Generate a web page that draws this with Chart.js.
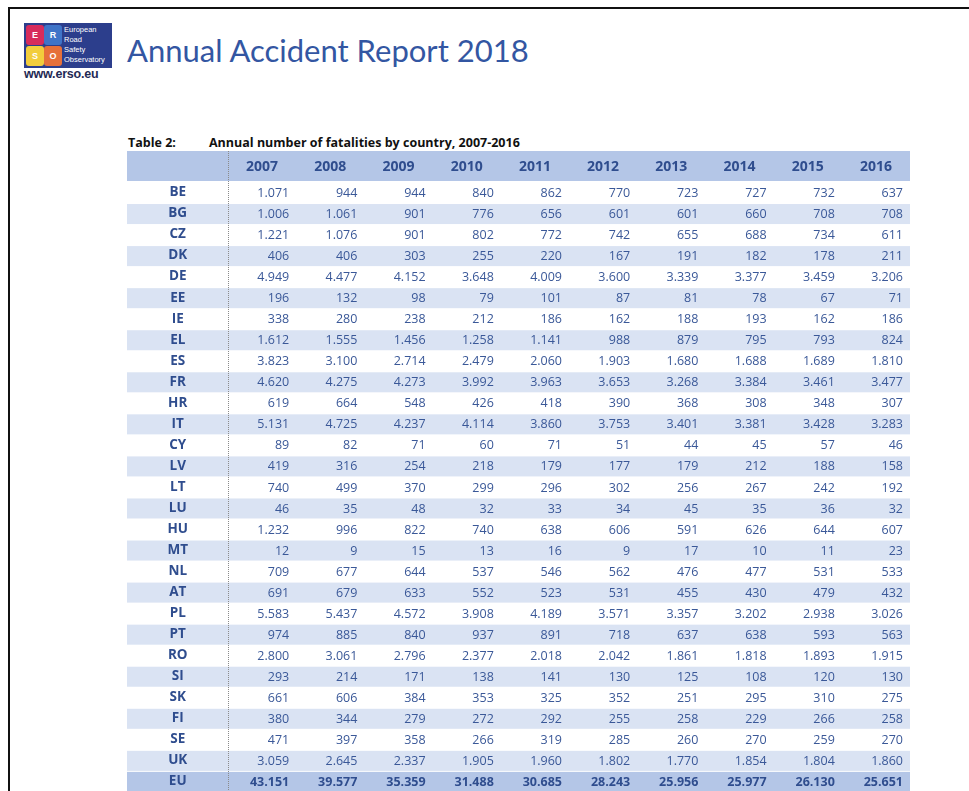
<!DOCTYPE html>
<html>
<head>
<meta charset="utf-8">
<script src="https://cdn.jsdelivr.net/npm/chart.js@4.4.1/dist/chart.umd.min.js"></script>
<style>
html, body { margin: 0; padding: 0; background: #fff; overflow: hidden; width: 969px; height: 791px; }
#frame { position: absolute; left: 8px; top: 7px; width: 980px; height: 800px; border-top: 2px solid #111; border-left: 2px solid #111; }
#logo { position: absolute; left: 24px; top: 23px; width: 88px; height: 45px; background: #2c3e8c; overflow: hidden; }
.piece { position: absolute; width: 18px; height: 20px; color: #fff; font: bold 9px "Liberation Sans", Arial, sans-serif; text-align: center; line-height: 20px; border-radius: 3px; }
#logoText { position: absolute; left: 40px; top: 2px; color: #fff; font: 7.5px/10px "Liberation Sans Narrow", "Liberation Sans", Arial, sans-serif; }
#www { position: absolute; left: 24px; top: 67px; font: bold 12.5px "Liberation Sans", Arial, sans-serif; color: #1f2a55; letter-spacing: -0.2px; }
#title { position: absolute; left: 127px; top: 31px; font: 31px "Lato", sans-serif; color: #3356a2; white-space: nowrap; }
#caption { position: absolute; left: 128px; top: 134px; font: bold 12.5px "Open Sans", sans-serif; color: #111; white-space: nowrap; }
#caption span { position: absolute; left: 81px; top: 0; }
canvas { position: absolute; left: 0; top: 0; }
</style>
</head>
<body>
<div id="frame"></div>
<div id="logo">
  <div class="piece" style="left:2px;top:2px;background:#d72b5c">E</div>
  <div class="piece" style="left:20px;top:2px;background:#3f74c8">R</div>
  <div class="piece" style="left:2px;top:23px;background:#f2cd3c">S</div>
  <div class="piece" style="left:20px;top:23px;background:#e6703a">O</div>
  <div id="logoText">European<br>Road<br>Safety<br>Observatory</div>
</div>
<div id="www">www.erso.eu</div>
<div id="title">Annual Accident Report 2018</div>
<div id="caption">Table 2:<span>Annual number of fatalities by country, 2007-2016</span></div>
<canvas id="table" width="969" height="840"></canvas>
<script>
const years = ['2007', '2008', '2009', '2010', '2011', '2012', '2013', '2014', '2015', '2016'];
const countries = ['BE', 'BG', 'CZ', 'DK', 'DE', 'EE', 'IE', 'EL', 'ES', 'FR', 'HR', 'IT', 'CY', 'LV', 'LT',
    'LU', 'HU', 'MT', 'NL', 'AT', 'PL', 'PT', 'RO', 'SI', 'SK', 'FI', 'SE', 'UK', 'EU'];

// fatalities per year, one value per country (same order as countries)
const f2007 = [1071, 1006, 1221, 406, 4949, 196, 338, 1612, 3823, 4620, 619, 5131, 89, 419, 740, 46, 1232, 12, 709, 691, 5583, 974, 2800, 293, 661, 380, 471, 3059, 43151];
const f2008 = [944, 1061, 1076, 406, 4477, 132, 280, 1555, 3100, 4275, 664, 4725, 82, 316, 499, 35, 996, 9, 677, 679, 5437, 885, 3061, 214, 606, 344, 397, 2645, 39577];
const f2009 = [944, 901, 901, 303, 4152, 98, 238, 1456, 2714, 4273, 548, 4237, 71, 254, 370, 48, 822, 15, 644, 633, 4572, 840, 2796, 171, 384, 279, 358, 2337, 35359];
const f2010 = [840, 776, 802, 255, 3648, 79, 212, 1258, 2479, 3992, 426, 4114, 60, 218, 299, 32, 740, 13, 537, 552, 3908, 937, 2377, 138, 353, 272, 266, 1905, 31488];
const f2011 = [862, 656, 772, 220, 4009, 101, 186, 1141, 2060, 3963, 418, 3860, 71, 179, 296, 33, 638, 16, 546, 523, 4189, 891, 2018, 141, 325, 292, 319, 1960, 30685];
const f2012 = [770, 601, 742, 167, 3600, 87, 162, 988, 1903, 3653, 390, 3753, 51, 177, 302, 34, 606, 9, 562, 531, 3571, 718, 2042, 130, 352, 255, 285, 1802, 28243];
const f2013 = [723, 601, 655, 191, 3339, 81, 188, 879, 1680, 3268, 368, 3401, 44, 179, 256, 45, 591, 17, 476, 455, 3357, 637, 1861, 125, 251, 258, 260, 1770, 25956];
const f2014 = [727, 660, 688, 182, 3377, 78, 193, 795, 1688, 3384, 308, 3381, 45, 212, 267, 35, 626, 10, 477, 430, 3202, 638, 1818, 108, 295, 229, 270, 1854, 25977];
const f2015 = [732, 708, 734, 178, 3459, 67, 162, 793, 1689, 3461, 348, 3428, 57, 188, 242, 36, 644, 11, 531, 479, 2938, 593, 1893, 120, 310, 266, 259, 1804, 26130];
const f2016 = [637, 708, 611, 211, 3206, 71, 186, 824, 1810, 3477, 307, 3283, 46, 158, 192, 32, 607, 23, 533, 432, 3026, 563, 1915, 130, 275, 258, 270, 1860, 25651];

const columns = [f2007, f2008, f2009, f2010, f2011, f2012, f2013, f2014, f2015, f2016];

const headerBg = '#b4c6e7';
const stripeBg = '#dae3f3';
const textBlue = '#2f4d8e';
const numBlue = '#3a5898';
const tableLeft = 127;
const rowHeight = 21.1;

function fmt(n) {
    return String(n).replace(/\B(?=(\d{3})+(?!\d))/g, '.');
}

const tablePlugin = {
    id: 'tableCells',
    beforeDraw(chart) {
        const { ctx, chartArea } = chart;
        const x = chart.scales.x, y = chart.scales.y;
        const rowH = y.getPixelForValue(1) - y.getPixelForValue(0);
        const w = chartArea.right - tableLeft;
        ctx.save();
        // header band
        ctx.fillStyle = headerBg;
        ctx.fillRect(tableLeft, x.top, w, x.bottom - x.top - 1);
        // striped rows, EU total row in header colour
        countries.forEach((c, i) => {
            const cy = y.getPixelForValue(i);
            if (i === countries.length - 1) ctx.fillStyle = headerBg;
            else if (i % 2 === 1) ctx.fillStyle = stripeBg;
            else return;
            ctx.fillRect(tableLeft, cy - rowH / 2 + 1, w, rowH - 1);
        });
        ctx.restore();
    },
    afterDraw(chart) {
        const { ctx, chartArea } = chart;
        const x = chart.scales.x, y = chart.scales.y;
        const colW = x.getPixelForValue(1) - x.getPixelForValue(0);
        ctx.save();
        ctx.textAlign = 'right';
        ctx.textBaseline = 'middle';
        columns.forEach((vals, j) => {
            const right = x.getPixelForValue(j) + colW / 2 - 7;
            vals.forEach((v, i) => {
                const total = i === countries.length - 1;
                ctx.font = (total ? 'bold ' : '') + '12.5px "Open Sans", sans-serif';
                ctx.fillStyle = total ? textBlue : numBlue;
                ctx.fillText(fmt(v), right, y.getPixelForValue(i) + 1);
            });
        });
        // dotted divider after the country column
        ctx.strokeStyle = '#8a8a8a';
        ctx.lineWidth = 1;
        ctx.setLineDash([1, 1]);
        ctx.beginPath();
        ctx.moveTo(chartArea.left + 0.5, x.top);
        ctx.lineTo(chartArea.left + 0.5, chart.height);
        ctx.stroke();
        ctx.restore();
    }
};

const ctx = document.getElementById('table').getContext('2d');
const chart = new Chart(ctx, {
    type: 'line',
    data: { labels: years, datasets: [] },
    options: {
        responsive: false,
        maintainAspectRatio: false,
        animation: false,
        devicePixelRatio: 1,
        layout: { padding: { left: 128, right: 59, top: 151, bottom: 46 } },
        plugins: { legend: { display: false }, tooltip: { enabled: false } },
        scales: {
            x: {
                type: 'category',
                labels: years,
                position: 'top',
                display: true,
                offset: true,
                grid: { display: false, drawTicks: false },
                border: { display: false },
                ticks: {
                    color: textBlue,
                    padding: 7,
                    maxRotation: 0,
                    autoSkip: false,
                    font: { family: '"Open Sans", sans-serif', size: 14, weight: 'bold' }
                },
                afterFit: s => { s.height = 31; }
            },
            y: {
                type: 'category',
                labels: countries,
                display: true,
                offset: true,
                grid: { display: false, drawTicks: false },
                border: { display: false },
                ticks: {
                    color: textBlue,
                    crossAlign: 'center',
                    padding: 40,
                    autoSkip: false,
                    font: { family: '"Open Sans", sans-serif', size: 13.5, weight: 'bold' }
                },
                afterFit: s => { s.width = 100; }
            }
        }
    },
    plugins: [tablePlugin]
});

// make the rows come out at the reference row height
for (let k = 0; k < 3; k++) {
    const want = chart.chartArea.top + countries.length * rowHeight;
    const diff = want - chart.chartArea.bottom;
    if (Math.abs(diff) < 0.5) break;
    chart.options.layout.padding.bottom -= diff;
    chart.update();
}
</script>
</body>
</html>
